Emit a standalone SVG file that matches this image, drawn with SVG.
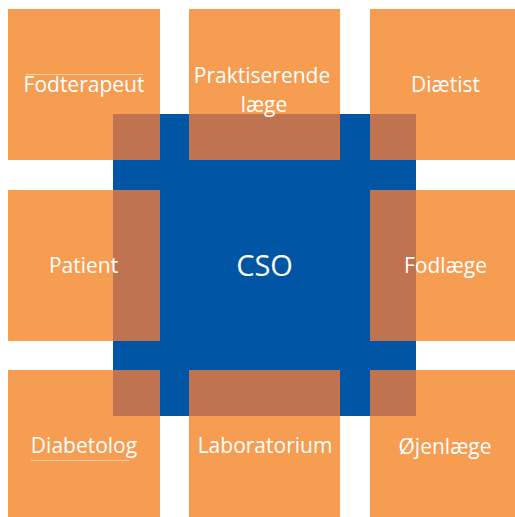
<svg xmlns="http://www.w3.org/2000/svg" width="515" height="517" viewBox="0 0 515 517">
<style>
.box{fill:#F79D52}
.ov{fill:#C07350}
.lbl{fill:#FFFFFF;font-family:"Open Sans","Liberation Sans",sans-serif;font-size:21px;text-anchor:middle}
.cso{fill:#FFFFFF;font-family:"Open Sans","Liberation Sans",sans-serif;font-size:29px;text-anchor:middle}
.faint{stroke:#FBCFA6;stroke-width:1;fill:none}
</style>
<rect x="0" y="0" width="515" height="517" fill="#FFFFFF"/>
<g id="cso">
<rect x="113" y="114" width="303" height="302" fill="#0055A5"/>
<text class="cso" x="264.5" y="276">CSO</text>
</g>
<g id="fodterapeut">
<rect class="box" x="8" y="9" width="152" height="151"/>
<rect class="ov" x="113" y="114" width="47" height="46"/>
<line class="faint" x1="26" y1="74.5" x2="143" y2="74.5"/>
<text class="lbl" x="84" y="92">Fodterapeut</text>
</g>
<g id="praktiserende">
<rect class="box" x="189" y="9" width="151" height="151"/>
<rect class="ov" x="189" y="114" width="151" height="46"/>
<text class="lbl" x="262" y="83">Praktiserende</text>
<text class="lbl" x="264" y="112">læge</text>
</g>
<g id="diaetist">
<rect class="box" x="370" y="9" width="145" height="151"/>
<rect class="ov" x="370" y="114" width="46" height="46"/>
<text class="lbl" x="445.5" y="92">Diætist</text>
</g>
<g id="patient">
<rect class="box" x="8" y="190" width="152" height="151"/>
<rect class="ov" x="113" y="190" width="47" height="151"/>
<text class="lbl" x="83.5" y="273">Patient</text>
</g>
<g id="fodlaege">
<rect class="box" x="370" y="190" width="145" height="151"/>
<rect class="ov" x="370" y="190" width="46" height="151"/>
<text class="lbl" x="445.5" y="273">Fodlæge</text>
</g>
<g id="diabetolog">
<rect class="box" x="8" y="370" width="152" height="147"/>
<rect class="ov" x="113" y="370" width="47" height="46"/>
<line class="faint" x1="31" y1="460.5" x2="129" y2="460.5"/>
<text class="lbl" x="84" y="453">Diabetolog</text>
</g>
<g id="laboratorium">
<rect class="box" x="189" y="370" width="151" height="147"/>
<rect class="ov" x="189" y="370" width="151" height="46"/>
<text class="lbl" x="265" y="453">Laboratorium</text>
</g>
<g id="ojenlaege">
<rect class="box" x="370" y="370" width="145" height="147"/>
<rect class="ov" x="370" y="370" width="46" height="46"/>
<text class="lbl" x="445" y="454">Øjenlæge</text>
</g>
</svg>
